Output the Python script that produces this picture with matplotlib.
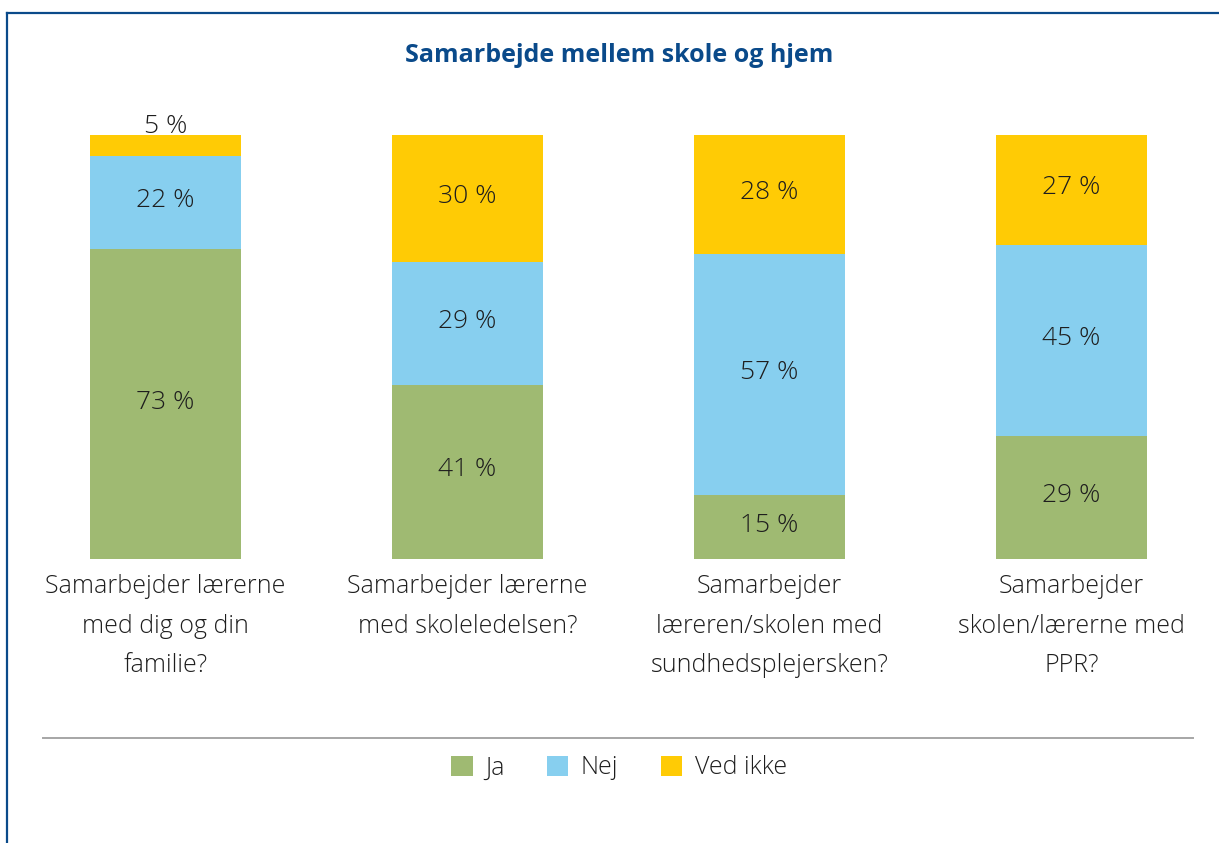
import matplotlib.pyplot as plt
from matplotlib.lines import Line2D
from matplotlib.patches import Patch

plt.rcParams["font.family"] = ["Open Sans", "DejaVu Sans"]

categories = [
    "Samarbejder lærerne\nmed dig og din\nfamilie?",
    "Samarbejder lærerne\nmed skoleledelsen?",
    "Samarbejder\nlæreren/skolen med\nsundhedsplejersken?",
    "Samarbejder\nskolen/lærerne med\nPPR?",
]
ja = [73, 41, 15, 29]
nej = [22, 29, 57, 45]
ved_ikke = [5, 30, 28, 27]
series_names = ["Ja", "Nej", "Ved ikke"]
colors = ["#9fba72", "#87cfef", "#ffcb05"]
text_col = "#1e1e1e"
navy = "#0a4a8a"

W, H = 1219, 843
fig = plt.figure(figsize=(W / 100, H / 100), dpi=100)

# axes placed in pixel terms of the reference
ax = fig.add_axes([43 / W, (H - 559) / H, (1193 - 43) / W, (559 - 135) / H])
x = list(range(len(categories)))
bottom = [0] * len(categories)
for vals, col in zip([ja, nej, ved_ikke], colors):
    ax.bar(x, vals, width=0.5, bottom=bottom, color=col, edgecolor="none")
    for i, v in enumerate(vals):
        top = min(bottom[i] + v, 100)
        mid = (bottom[i] + top) / 2 + 0.5
        if v < 8:
            mid = 102
        ax.text(i, mid, f"{v} %", ha="center", va="center", fontsize=19,
                fontweight="light", color=text_col, clip_on=False)
    bottom = [b + v for b, v in zip(bottom, vals)]

ax.set_ylim(0, 100)
ax.set_xlim((43 - 165.5) / 302, (1193 - 165.5) / 302)
ax.set_xticks(x)
ax.set_xticklabels(categories, fontsize=18, fontweight="light", color=text_col,
                   linespacing=1.76)
ax.tick_params(axis="x", length=0, pad=11)
ax.set_yticks([])
for s in ax.spines.values():
    s.set_visible(False)

fig.text(619 / W, 1 - 55 / H, "Samarbejde mellem skole og hjem", ha="center", va="center",
         fontsize=18, fontweight="bold", color=navy)

# frame lines and separator
fig.add_artist(Line2D([7 / W, 1], [1 - 13 / H] * 2, color=navy, lw=1.6))
fig.add_artist(Line2D([7 / W] * 2, [0, 1 - 13 / H], color=navy, lw=1.6))
fig.add_artist(Line2D([43 / W, 1193 / W], [1 - 738 / H] * 2, color="#a6a6a6", lw=1.4))

handles = [Patch(facecolor=c, edgecolor="none") for c in colors]
leg = fig.legend(handles, series_names, loc="center", bbox_to_anchor=(619 / W, 1 - 768 / H),
                 ncol=3, frameon=False, fontsize=18, handlelength=0.85, handleheight=0.85,
                 columnspacing=1.7, handletextpad=0.5, labelcolor=text_col)
for t in leg.get_texts():
    t.set_fontweight("light")

fig.savefig("out.png", dpi=100)
